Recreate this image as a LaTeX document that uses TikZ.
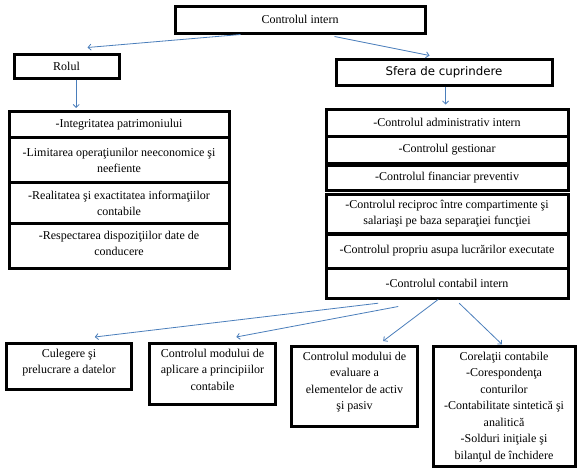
\documentclass[tikz,border=0pt]{standalone}
\usepackage{fontspec}
\setmainfont{Liberation Serif}
\newfontfamily\sferaf{DejaVu Sans}
\usetikzlibrary{arrows.meta,calc}
\definecolor{arrblue}{HTML}{4A7EBB}
\begin{document}
\begin{tikzpicture}[x=1pt,y=-1pt,
  box/.style={draw=black, line width=3pt, inner sep=0pt, align=center, anchor=north west,
    font=\fontsize{12}{16}\selectfont},
  txt/.style={inner sep=0pt, align=center, anchor=north, font=\fontsize{12}{16.5}\selectfont},
  arr/.style={draw=arrblue, line width=0.8pt, -{Straight Barb[length=3pt,width=6pt]}}]
\fill[white] (0,0) rectangle (578,471);
\useasboundingbox (0,0) rectangle (578,471);
% top level
\node[box, minimum width=250pt, minimum height=27pt] (top) at (173.5,4.5) {Controlul intern};
\node[box, minimum width=105pt, minimum height=24pt] (rolul) at (12.5,52.5) {Rolul};
\node[box, minimum width=216pt, minimum height=26pt, font=\sferaf\fontsize{11.8}{16}\selectfont] (sfera) at (334.5,57.5) {Sfera de cuprindere};
% left stack
\node[box, minimum width=220pt, minimum height=26.5pt] (L1) at (7.5,109.5) {-Integritatea patrimoniului};
\node[box, minimum width=220pt, minimum height=45pt] (L2) at (7.5,136) {-Limitarea operaţiunilor neeconomice şi\\neefiente};
\node[box, minimum width=220pt, minimum height=41pt] (L3) at (7.5,181) {-Realitatea şi exactitatea informaţiilor\\contabile};
\node[box, minimum width=220pt, minimum height=44.5pt] (L4) at (7.5,222) {-Respectarea dispoziţiilor date de\\conducere\rule[-4pt]{0pt}{1pt}};
% right stack
\node[box, minimum width=242pt, minimum height=27.5pt] (R1) at (324.5,107.5) {-Controlul administrativ intern};
\node[box, minimum width=242pt, minimum height=26.5pt] (R2) at (324.5,135) {-Controlul gestionar};
\node[box, minimum width=242pt, minimum height=25pt] (R3) at (324.5,163.5) {-Controlul financiar preventiv};
\node[box, minimum width=242pt, minimum height=38.5pt] (R4) at (324.5,193) {-Controlul reciproc între compartimente şi\\salariaşi pe baza separaţiei funcţiei};
\node[box, minimum width=242pt, minimum height=34pt] (R5) at (324.5,232.5) {-Controlul propriu asupa lucrărilor executate};
\node[box, minimum width=242pt, minimum height=30pt] (R6) at (324.5,266.5) {-Controlul contabil intern};
% bottom boxes
\node[box, minimum width=125pt, minimum height=46pt] (c1) at (5,342) {};
\node[box, minimum width=126pt, minimum height=60.5pt] (c2) at (148,342) {};
\node[box, minimum width=126pt, minimum height=79.5pt] (c3) at (290,345) {};
\node[box, minimum width=142pt, minimum height=120pt] (c4) at (431.5,345) {};
\node[txt] (t1) at ([yshift=-6.5pt]c1.north) {Culegere şi\\prelucrare a datelor};
\node[txt] (t2) at ([yshift=-6.5pt]c2.north) {Controlul modului de\\aplicare a principiilor\\contabile};
\node[txt] (t3) at ([yshift=-6.5pt]c3.north) {Controlul modului de\\evaluare a\\elementelor de activ\\şi pasiv};
\node[txt] (t4) at ([yshift=-6.5pt]c4.north) {Corelaţii contabile\\-Corespondenţa\\conturilor\\-Contabilitate sintetică şi\\analitică\\-Solduri iniţiale şi\\bilanţul de închidere};
% connectors
\draw[arr] ([xshift=-59.5pt]top.south) -- ([xshift=21pt,yshift=5pt]rolul.north);
\draw[arr] ([xshift=34.5pt,yshift=-2pt]top.south) -- ([xshift=-14.5pt,yshift=2pt]sfera.north);
\draw[arr] ([xshift=9.7pt]rolul.south) -- ([xshift=-42.8pt,yshift=1.5pt]L1.north);
\draw[arr] ([xshift=1.5pt]sfera.south) -- ([xshift=-1.5pt,yshift=3pt]R1.north);
\draw[arr] ([xshift=-68.8pt,yshift=-3.7pt]R6.south) -- ([xshift=25.8pt,yshift=5pt]c1.north);
\draw[arr] ([xshift=-48.8pt,yshift=-7pt]R6.south) -- ([xshift=23.8pt,yshift=5pt]c2.north);
\draw[arr] ([xshift=-8.8pt]R6.south) -- ([xshift=28.7pt,yshift=4pt]c3.north);
\draw[arr] ([xshift=12.2pt,yshift=-3.7pt]R6.south) -- ([xshift=-2pt,yshift=0.6pt]c4.north);
\end{tikzpicture}
\end{document}
